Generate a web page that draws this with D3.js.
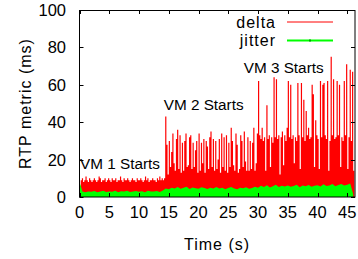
<!DOCTYPE html>
<html>
<head>
<meta charset="utf-8">
<script src="https://cdn.jsdelivr.net/npm/d3@7"></script>
<style>
  body { margin: 0; background: #fff; }
  text { font-family: "Liberation Sans", Arial, Helvetica, sans-serif; fill: #000; }
</style>
</head>
<body>
<script>
// sampling of the two series (seconds between samples)
var deltaStep = 0.2;
var jitterStep = 0.5;

// delta (ms), one value per 0.2 s
var delta = [
  6, 9, 10, 8, 9, 11, 9, 8, 10, 9, 8, 9, 10, 9, 8, 9, 11, 10, 8, 9,
  9, 10, 8, 9, 10, 9, 8, 10, 9, 9, 10, 8, 9, 9, 11, 9, 8, 10, 9, 9,
  10, 9, 8, 9, 10, 9, 9, 8, 10, 9, 9, 10, 9, 8, 9, 11, 9, 10, 8, 9,
  9, 10, 9, 9, 8, 10, 9, 11, 9, 10, 9, 10,
  43,
  28, 12, 30, 16, 24, 34, 18, 14, 31, 36,
  15, 33, 13, 29, 14, 30, 34, 16, 17, 32,
  33, 15, 29, 16, 25, 30, 13, 34, 14, 29,
  18, 31, 13, 30, 27, 15, 32, 35, 16, 31,
  14, 30, 15, 20, 31, 13, 34, 16, 32, 14,
  33, 13, 29, 16, 37, 30, 17, 14, 34, 28,
  13, 15, 33, 30, 16, 35, 19, 14, 32, 14,
  30, 15, 29, 37, 14, 18, 34,
  62, 33, 31, 37, 30, 32, 14, 49, 31, 33,
  16, 32, 29, 64, 32, 63, 31, 33, 12, 32,
  35, 17, 33, 30, 37, 62, 32, 60, 31, 33,
  18, 32, 30, 61, 33, 15, 61, 32, 52, 30,
  46, 33, 37, 31, 32, 60, 55, 16, 41, 33,
  31, 15, 62, 32, 60, 61, 33, 31, 62, 14,
  30, 75, 33, 63, 31, 32, 62, 33, 60, 16,
  32, 30, 62, 33, 71, 15, 32, 68, 30, 67,
  14, 21
];

// jitter (ms), one value per 0.5 s
var jitter = [
  8, 3, 2.5, 3, 2.8, 3.2, 2.6, 3, 3.4, 2.7,
  3, 2.8, 3.3, 2.6, 3.1, 2.9, 3.4, 2.7, 3, 3.2,
  2.8, 3.1, 2.6, 3.3, 3, 2.9, 3.2, 2.7, 3.5, 4.5,
  4.2, 5, 4.6, 5.3, 4.4, 4.9, 5.5, 4.3, 5.1, 4.7,
  4.4, 5.2, 4.8, 4.3, 5, 4.6, 5.4, 4.5, 4.9, 4.2,
  4.8, 5.3, 4.5, 4.1, 5, 4.7, 5.2, 4.4, 4.8, 5.5,
  5, 6, 5.4, 6.3, 5.1, 5.8, 6.5, 5.3, 6, 5.6,
  6.2, 5.5, 5.9, 6.6, 5.2, 6.1, 5.7, 6.4, 5.5, 6,
  6.3, 5.6, 6.8, 5.9, 6.2, 6.9, 5.8, 6.4, 7, 6.1,
  6.6, 7.2, 1.5
];

var xTicks = [0, 5, 10, 15, 20, 25, 30, 35, 40, 45];
var yTicks = [0, 20, 40, 60, 80, 100];

var seriesNames = ["delta", "jitter"];
var seriesColors = ["#ff0000", "#00ff00"];

// annotations: text, time (s), value (ms)
var notes = [
  { text: "VM 1 Starts", t: 0.1, v: 15.2 },
  { text: "VM 2 Starts", t: 14.15, v: 46.3 },
  { text: "VM 3 Starts", t: 27.6, v: 66.2 }
];

function drawChart() {
  var width = 358, height = 259;
  var pLeft = 79.5, pRight = 355, pTop = 10, pBottom = 197;

  var svg = d3.select("body").append("svg")
    .attr("width", width)
    .attr("height", height);

  var x = d3.scaleLinear().domain([0, 46.3]).range([pLeft, pRight]);
  var y = d3.scaleLinear().domain([0, 100]).range([pBottom, pTop]);

  var plot = svg.append("g");

  // delta as dense stepped fill
  var deltaArea = d3.area()
    .curve(d3.curveStepAfter)
    .x(function (d, i) { return x(i * deltaStep); })
    .y0(y(0))
    .y1(function (d) { return y(d); });

  plot.append("path")
    .datum(delta)
    .attr("d", deltaArea)
    .attr("fill", seriesColors[0]);

  var jitterArea = d3.area()
    .x(function (d, i) { return x(i * jitterStep); })
    .y0(y(0))
    .y1(function (d) { return y(d); });

  plot.append("path")
    .datum(jitter)
    .attr("d", jitterArea)
    .attr("fill", seriesColors[1]);

  // ticks (inward, mirrored like gnuplot)
  var tl = 4;
  var ax = svg.append("g").attr("stroke", "#000").attr("stroke-width", 1);
  xTicks.forEach(function (t) {
    var px = Math.round(x(t)) + 0.5;
    ax.append("line").attr("x1", px).attr("x2", px).attr("y1", pBottom).attr("y2", pBottom - tl);
    ax.append("line").attr("x1", px).attr("x2", px).attr("y1", pTop).attr("y2", pTop + tl);
  });
  yTicks.forEach(function (v) {
    var py = Math.round(y(v)) + 0.5;
    ax.append("line").attr("x1", pLeft).attr("x2", pLeft + tl).attr("y1", py).attr("y2", py);
    ax.append("line").attr("x1", pRight).attr("x2", pRight - tl).attr("y1", py).attr("y2", py);
  });

  // border
  svg.append("rect")
    .attr("x", 79.5).attr("y", 10.5)
    .attr("width", pRight - 79.5).attr("height", pBottom - 10.5)
    .attr("fill", "none").attr("stroke", "#000").attr("stroke-width", 1);

  // tick labels
  svg.append("g").selectAll("text")
    .data(xTicks)
    .join("text")
    .attr("x", function (d) { return x(d); })
    .attr("y", 218)
    .attr("text-anchor", "middle")
    .attr("font-size", 16.5)
    .text(function (d) { return d; });

  svg.append("g").selectAll("text")
    .data(yTicks)
    .join("text")
    .attr("x", 66)
    .attr("y", function (d) { return y(d); })
    .attr("dy", "0.36em")
    .attr("text-anchor", "end")
    .attr("font-size", 16.5)
    .text(function (d) { return d; });

  // axis titles
  svg.append("text")
    .attr("x", 217).attr("y", 250)
    .attr("text-anchor", "middle")
    .attr("font-size", 16)
    .attr("letter-spacing", 1)
    .text("Time (s)");

  svg.append("text")
    .attr("transform", "translate(31," + ((pTop + pBottom) / 2) + ") rotate(-90)")
    .attr("text-anchor", "middle")
    .attr("font-size", 16)
    .attr("letter-spacing", 1)
    .text("RTP metric (ms)");

  // annotations
  svg.append("g").selectAll("text")
    .data(notes)
    .join("text")
    .attr("x", function (d) { return x(d.t); })
    .attr("y", function (d) { return y(d.v); })
    .attr("font-size", 15.3)
    .text(function (d) { return d.text; });

  // legend
  var legend = svg.append("g");
  seriesNames.forEach(function (name, i) {
    var ly = 22 + i * 18.5;
    legend.append("text")
      .attr("x", 276).attr("y", ly)
      .attr("dy", "0.36em")
      .attr("text-anchor", "end")
      .attr("font-size", 16)
      .attr("letter-spacing", 1)
      .text(name);
    legend.append("line")
      .attr("x1", 287).attr("x2", 333)
      .attr("y1", ly).attr("y2", ly)
      .attr("stroke", seriesColors[i])
      .attr("stroke-width", i == 0 ? 1 : 2);
  });
  legend.append("rect")
    .attr("x", 309).attr("y", 22 + 18.5 - 1).attr("width", 2).attr("height", 2)
    .attr("fill", "#00a000");
}

drawChart();
</script>
</body>
</html>
